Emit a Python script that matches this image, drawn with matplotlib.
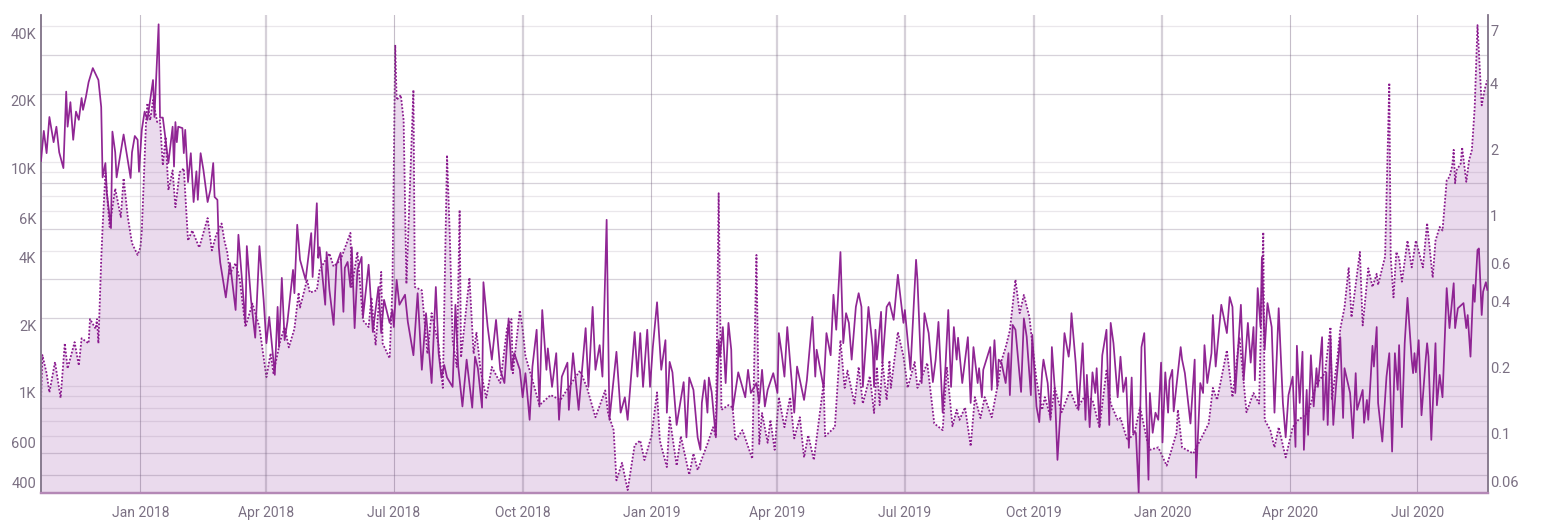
import matplotlib
matplotlib.use("Agg")
import matplotlib.pyplot as plt
from matplotlib.transforms import ScaledTranslation
import pandas as pd

plt.rcParams['font.family'] = ['Roboto', 'DejaVu Sans']

## days counted from the first day of the chart
start_date = pd.Timestamp('2017-10-22')
end_day = 1033.5

solid_days = [0,2,4,6,9,11,13,16,18,19,21,23,25,27,29,30,32,34,37,41,43,44,46,47,50,51,53,54,59,64,65,67,69,70,72,74,76,80,81,84,85,87,89,91,94,95,96,97,98,101,102,103,105,107,109,111,112,114,116,119,121,123,124,126,127,128,
    132,135,139,141,146,147,150,153,156,159,161,163,167,169,170,172,174,176,180,181,183,185,189,193,194,197,198,199,203,204,206,209,211,214,216,217,219,221,222,224,226,229,230,234,237,241,243,245,249,251,252,254,256,260,262,266,269,272,275,279,282,284,286,288,290,294,296,298,
    301,304,308,310,312,315,316,319,322,325,328,331,334,336,338,342,344,346,349,351,354,356,358,361,362,365,368,370,372,376,377,380,384,389,391,394,396,399,401,404,406,411,414,417,419,424,426,428,430,433,435,437,440,443,446,447,449,451,454,459,461,463,466,469,471,472,474,476,477,479,482,484,485,487,489,491,493,494,498,
    503,505,507,511,513,515,517,519,523,526,527,529,531,533,538,540,545,547,551,553,554,559,561,564,566,568,571,573,575,577,579,582,584,586,587,591,594,595,596,597,600,601,604,606,609,612,616,617,621,625,626,629,631,634,637,639,641,644,646,648,650,652,654,655,658,662,664,666,669,670,672,673,678,679,681,683,684,686,689,691,692,694,696,
    700,702,704,707,708,711,713,715,716,719,721,722,724,726,729,731,734,735,736,739,741,744,746,747,749,751,753,754,756,758,761,763,764,766,769,771,773,775,777,779,780,782,784,786,788,791,792,794,796,798,800,801,803,805,806,808,809,814,815,817,821,824,825,828,830,831,833,836,837,839,843,847,849,851,853,857,859,862,864,866,867,869,871,872,874,876,879,881,884,887,889,891,894,896,897,899,
    901,902,904,905,907,909,911,912,915,916,918,919,921,923,925,928,930,931,935,937,939,940,944,945,947,948,951,952,954,955,958,961,963,965,967,969,970,972,974,976,979,980,981,982,984,986,989,990,991,993,996,997,999,1001,1004,1006,1009,1010,1012,1016,1018,1019,1021,1023,1024,1026,1027,1029,1030,1032,1033]
solid_vals = [10070,13700,10900,15800,12200,14300,11000,9350,20500,14300,18400,12500,16700,15350,19200,17000,19300,22600,26100,23100,17500,8500,9850,7250,5050,13600,11000,8500,13200,8450,11000,13000,12500,9000,13850,16700,15350,23100,15800,40900,15700,15700,12500,9850,14300,9500,15000,12200,14300,14100,10900,13850,8100,10900,6600,9050,6750,10900,9180,6600,7480,9850,6950,6750,4150,3550,
    2480,3530,2180,4720,1900,4200,2420,1640,4200,2420,1550,2030,1120,2250,1490,3030,1600,1930,3290,2590,5230,3650,2970,4800,3060,6520,3720,4150,2300,3950,2680,1870,3470,3920,2140,3360,3570,2760,4150,1810,3290,3760,2030,3470,1740,2760,1720,2420,1910,2180,1830,2970,2300,2550,1930,1370,2590,1180,2110,1030,2760,1400,1090,1240,1090,990,2300,1220,
    810,1310,800,1350,1200,800,2900,1840,1310,1970,1180,1030,2000,1180,1400,1180,890,1140,706,1220,1780,810,2180,1180,1470,990,1400,706,1100,1270,782,1400,782,1810,990,2250,1180,1520,1100,5500,706,1420,760,890,706,1740,1100,1720,990,1780,990,1490,2360,1180,1600,760,1280,1150,670,1040,590,1090,960,590,519,840,1060,760,1090,940,590,1600,1350,1830,1030,1910,1450,782,1150,
    890,1180,930,1030,840,1180,810,960,1140,930,1720,1400,1100,1830,760,1220,866,1060,2030,1100,1450,980,1720,1370,2550,1780,3950,1550,2110,1910,1310,2250,2590,2250,990,2250,1490,990,1780,1310,2140,1260,2250,2360,1970,3130,1910,2180,1180,3650,2970,1030,2110,1720,1040,1310,1930,760,1220,2180,990,1830,1310,1640,1030,1650,840,1490,1030,1200,890,1180,1490,960,1600,990,1310,1270,1030,1400,910,1870,1780,
    940,2000,1660,910,1690,810,690,1140,1310,1030,706,1490,990,468,940,1720,1350,1550,2110,1270,782,1550,706,1120,655,1150,930,1200,655,1370,1780,670,1910,1550,890,1350,940,1090,530,1090,618,618,335,1490,1720,382,930,618,760,706,1270,560,1150,760,1060,1180,770,1490,1310,1140,680,1310,390,1030,930,1520,1030,1400,2070,1220,2300,1720,2490,2250,930,2300,1060,1910,1270,1830,1060,2730,1830,3750,1450,2340,1830,760,2220,840,590,910,1100,535,1510,840,
    1420,519,960,605,1370,810,1200,990,1650,706,1150,670,1650,670,1010,1650,720,1200,930,585,1140,782,960,685,866,706,1510,1220,1830,840,565,1100,1400,510,1400,960,1520,655,1550,2470,1310,1140,1400,1150,1600,740,1310,1550,1350,575,1550,820,1120,890,2730,1810,2870,1810,2220,2340,1810,2070,1350,2820,2370,4040,4100,2070,2630,2900,2680]

dotted_days = [0,1,4,6,10,14,17,19,24,27,29,34,35,39,40,41,43,44,46,49,53,57,59,62,65,69,71,72,75,76,78,80,83,85,87,89,91,94,96,99,102,105,108,113,119,122,125,129,131,133,135,139,142,146,151,156,161,164,166,171,174,177,181,184,185,190,192,197,199,206,209,214,221,222,226,230,234,236,239,243,244,249,251,253,254,257,259,261,266,267,272,276,279,284,287,290,292,294,297,299,300,306,309,311,314,318,322,328,333,336,337,342,344,346,351,356,364,371,378,385,390,396,
    403,405,409,411,415,419,424,428,431,436,440,442,447,449,454,457,463,466,469,476,480,482,484,486,491,494,496,501,508,511,513,515,519,521,524,527,531,535,538,542,545,548,552,559,560,567,571,574,576,581,584,587,592,595,597,599,601,604,606,607,612,616,619,624,626,633,638,644,647,651,654,656,660,664,667,671,674,679,684,686,689,692,696,699,702,706,708,711,715,717,721,724,729,735,740,746,751,756,761,764,769,771,776,781,785,790,792,798,804,808,811,812,815,823,829,834,837,840,847,851,856,861,866,870,873,874,878,881,884,889,894,898,
    905,911,917,921,922,926,928,931,934,936,942,944,948,951,954,955,960,963,964,966,968,970,972,976,979,982,985,987,990,994,996,999,1001,1004,1006,1008,1009,1010,1011,1014,1015,1018,1020,1022,1024,1026,1029,1031,1033]
dotted_vals = [.132,.212,.175,.143,.197,.135,.24,.184,.243,.19,.253,.24,.31,.28,.31,.24,.58,.82,1.45,.82,1.23,.91,1.37,.91,.69,.61,.66,.79,2.46,3.03,2.53,3.13,2.48,2.53,1.57,2.12,1.21,1.49,1.01,1.46,1.52,.71,.79,.66,.9,.64,.75,.85,.71,.63,.5,.56,.47,.285,.365,.285,.168,.216,.175,.248,.285,.23,.28,.41,.35,.47,.41,.42,.52,.62,.54,.58,.77,.435,.63,.306,.285,.39,.235,.51,.24,.205,.435,5.6,3.13,3.3,2.53,.45,3.48,.435,.42,.215,.33,.235,.15,1.75,.74,.248,.187,.98,.207,.48,.215,.27,.18,.135,.187,.158,.285,.31,.175,.34,.28,.21,.163,.125,.139,.132,.155,.18,.15,.11,
    .146,.115,.096,.0565,.068,.051,.082,.086,.07,.09,.143,.086,.065,.11,.066,.09,.06,.075,.063,.083,.099,.09,1.17,.119,.125,.122,.086,.096,.071,.61,.083,.115,.084,.107,.078,.136,.099,.136,.088,.11,.072,.091,.07,.158,.09,.099,.248,.15,.18,.127,.187,.127,.17,.115,.187,.125,.197,.132,.2,.15,.27,.21,.15,.197,.15,.195,.103,.096,.187,.1,.119,.107,.122,.081,.136,.109,.136,.11,.163,.2,.23,.275,.47,.33,.4,.316,.24,.163,.119,.136,.11,.15,.116,.146,.121,.139,.132,.099,.18,.127,.107,.109,.086,.093,.122,.086,.078,.08,.066,.08,.093,.119,.08,.075,.089,.103,.15,.132,.223,.136,.256,.116,.142,.127,.775,.107,.096,.08,.099,.072,.099,.107,
    .115,.157,.175,.285,.132,.207,.28,.35,.535,.316,.63,.29,.53,.435,.5,.445,.6,3.75,.6,.39,.63,.59,.46,.71,.535,.71,.6,.535,.855,.48,.71,.82,.79,1.34,1.39,1.57,1.85,1.3,1.49,1.6,1.9,1.32,1.66,1.85,2.9,6.9,2.96,3.48,3.86]

left_ticks = [400, 600, 1000, 2000, 4000, 6000, 10000, 20000, 40000]
left_labels = ['400', '600', '1K', '2K', '4K', '6K', '10K', '20K', '40K']
right_ticks = [0.06, 0.1, 0.2, 0.4, 0.6, 1, 2, 4, 7]
right_labels = ['0.06', '0.1', '0.2', '0.4', '0.6', '1', '2', '4', '7']
x_ticks = ['2018-01-01', '2018-04-01', '2018-07-01', '2018-10-01', '2019-01-01', '2019-04-01',
           '2019-07-01', '2019-10-01', '2020-01-01', '2020-04-01', '2020-07-01']
x_labels = ['Jan 2018', 'Apr 2018', 'Jul 2018', 'Oct 2018', 'Jan 2019', 'Apr 2019',
            'Jul 2019', 'Oct 2019', 'Jan 2020', 'Apr 2020', 'Jul 2020']
thin_months = ['2018-01-01', '2018-07-01', '2019-01-01', '2020-04-01', '2020-07-01']
grid_dark = [400, 500, 3000, 2000, 8000, 5000, 20000, 30000]
grid_light = [600, 700, 800, 900, 1000, 4000, 6000, 7000, 9000, 10000, 40000]

purple = '#8a1a8e'
text_col = '#7b7083'
axis_col = '#85788c'

solid_x = start_date + pd.to_timedelta(solid_days, unit='D')
dotted_x = start_date + pd.to_timedelta(dotted_days, unit='D')

fig = plt.figure(figsize=(15.45, 5.22), dpi=100)
ax = fig.add_axes([41 / 1545, 1 - 492.5 / 522, (1488 - 41) / 1545, (492.5 - 15) / 522])
ax2 = ax.twinx()
ax.set_zorder(2)
ax.patch.set_visible(False)

ax2.fill_between(dotted_x, dotted_vals, 0.01, color='#eadaed', lw=0, zorder=1)
ax2.plot(dotted_x, dotted_vals, color=purple, lw=1.3, ls=(0, (1, 1)), zorder=2)
ax.plot(solid_x, solid_vals, color=purple, lw=1.25, alpha=0.95, zorder=3)

for v in grid_dark:
    ax.axhline(v, color='#6e5a78', alpha=0.27, lw=0.9, zorder=1)
for v in grid_light:
    ax.axhline(v, color='#6e5a78', alpha=0.14, lw=0.9, zorder=1)
for d in x_ticks:
    if d in thin_months:
        ax.axvline(pd.Timestamp(d), color='#6e5a78', alpha=0.4, lw=0.8, zorder=1)
    else:
        ax.axvline(pd.Timestamp(d), color='#6e5a78', alpha=0.28, lw=1.6, zorder=1)

ax.set_yscale('log')
ax2.set_yscale('log')
ax.set_ylim(335, 45000)
ax2.set_ylim(0.0497, 7.68)
ax.set_xlim(start_date, start_date + pd.Timedelta(days=end_day))

ax.set_xticks(pd.to_datetime(x_ticks))
ax.set_xticklabels(x_labels)
ax.set_yticks(left_ticks)
ax.set_yticklabels(left_labels)
ax2.set_yticks(right_ticks)
ax2.set_yticklabels(right_labels)
ax.minorticks_off()
ax2.minorticks_off()

ax.tick_params(axis='x', length=0, pad=9.5, labelsize=10, labelcolor=text_col)
ax.tick_params(axis='y', length=0, pad=3.5, labelsize=10.5, labelcolor=text_col)
ax2.tick_params(axis='y', length=0, pad=1.5, labelsize=10.5, labelcolor=text_col)

## labels sit just under their grid lines
shift = ScaledTranslation(0, -5 / 72, fig.dpi_scale_trans)
for lab in ax.get_yticklabels() + ax2.get_yticklabels():
    lab.set_transform(lab.get_transform() + shift)

for a in (ax, ax2):
    a.spines['top'].set_visible(False)
    a.spines['left'].set_color(axis_col)
    a.spines['right'].set_color(axis_col)
    a.spines['left'].set_linewidth(1.1)
    a.spines['right'].set_linewidth(1.1)
    a.spines['bottom'].set_color('#b488b6')
    a.spines['bottom'].set_linewidth(1.6)

fig.savefig('out.png', dpi=100)
